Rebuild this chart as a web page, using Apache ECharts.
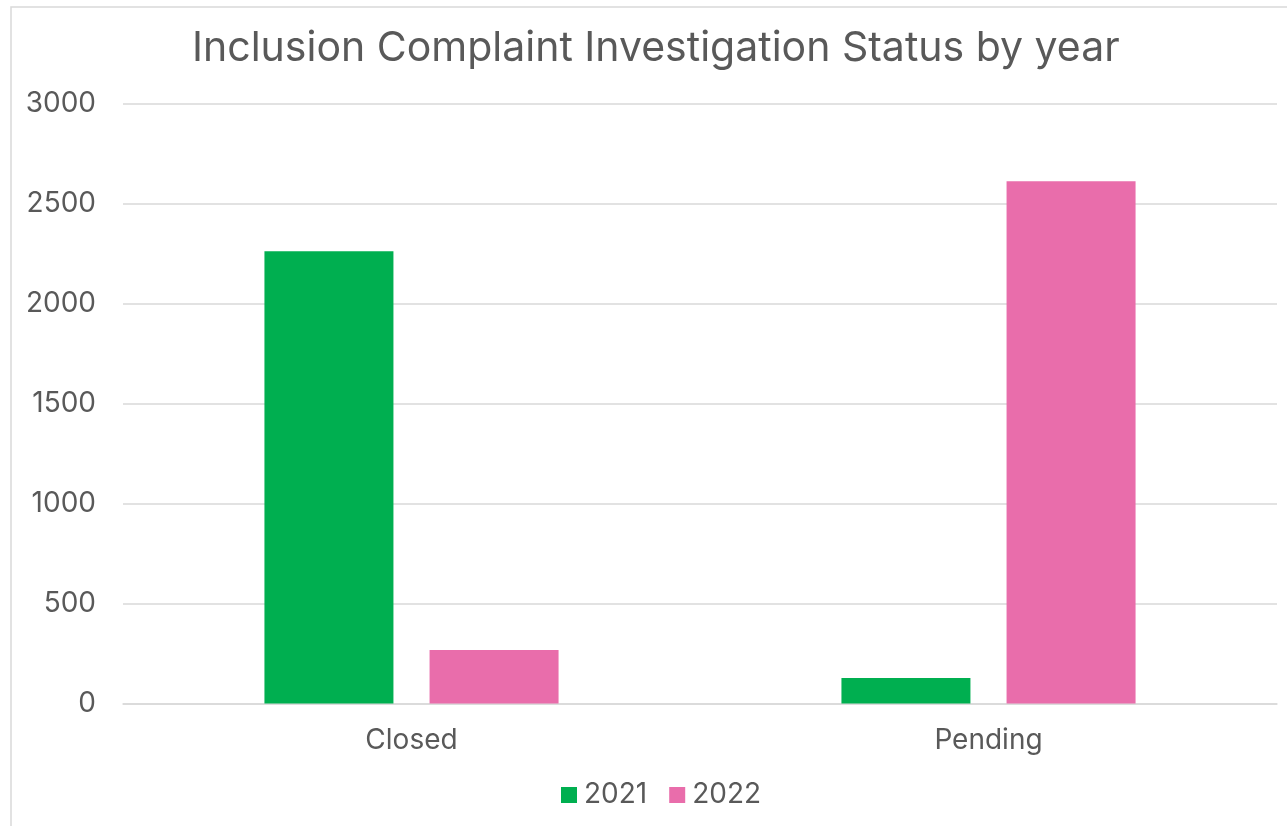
<!DOCTYPE html>
<html>
<head>
<meta charset="utf-8">
<style>
  html, body { margin: 0; padding: 0; background: #fff; }
  #chart { width: 1287px; height: 826px; }
</style>
<script src="https://cdn.jsdelivr.net/npm/echarts@6/dist/echarts.min.js"></script>
</head>
<body>
<div id="chart"></div>
<script>
const categories = ["Closed", "Pending"];
const years = ["2021", "2022"];
const values2021 = [2263, 128];
const values2022 = [268, 2613];
const yTicks = { min: 0, max: 3000, interval: 500 };

const textColor = "#595959";
const labelFont = "Inter, 'Liberation Sans', sans-serif";

const chart = echarts.init(document.getElementById("chart"));

const option = {
  animation: false,
  title: {
    text: "Inclusion Complaint Investigation Status by year",
    left: 187,
    top: 23,
    textStyle: {
      color: textColor,
      fontFamily: labelFont,
      fontWeight: "normal",
      fontSize: 41,
    },
  },
  graphic: [
    {
      type: "rect",
      shape: { x: 11, y: 7, width: 1400, height: 900 },
      style: { fill: "none", stroke: "#d9d9d9", lineWidth: 1.5 },
      silent: true,
    },
  ],
  legend: {
    data: years,
    top: 776,
    left: 556,
    icon: "rect",
    itemWidth: 16,
    itemHeight: 16,
    itemGap: 22,
    textStyle: {
      color: textColor,
      fontFamily: labelFont,
      fontSize: 28,
      padding: [0, 0, 0, 2],
    },
  },
  grid: {
    left: 123,
    right: 10,
    top: 104,
    bottom: 122.5,
  },
  xAxis: {
    type: "category",
    data: categories,
    axisLine: { lineStyle: { color: "#d9d9d9", width: 1.5 } },
    axisTick: { show: false },
    axisLabel: {
      color: textColor,
      fontFamily: labelFont,
      fontSize: 28,
      margin: 23,
    },
  },
  yAxis: {
    type: "value",
    min: yTicks.min,
    max: yTicks.max,
    interval: yTicks.interval,
    axisLine: { show: false },
    axisTick: { show: false },
    splitLine: { lineStyle: { color: "#d9d9d9", width: 1.5 } },
    axisLabel: {
      color: textColor,
      fontFamily: labelFont,
      fontSize: 28,
      margin: 27,
      formatter: (v) => String(v),
    },
  },
  series: [
    {
      name: years[0],
      type: "bar",
      data: values2021,
      barWidth: 129,
      barGap: "28%",
      itemStyle: { color: "#00AF50" },
    },
    {
      name: years[1],
      type: "bar",
      data: values2022,
      barWidth: 129,
      itemStyle: { color: "#E96DAB" },
    },
  ],
};

chart.setOption(option);
</script>
</body>
</html>
